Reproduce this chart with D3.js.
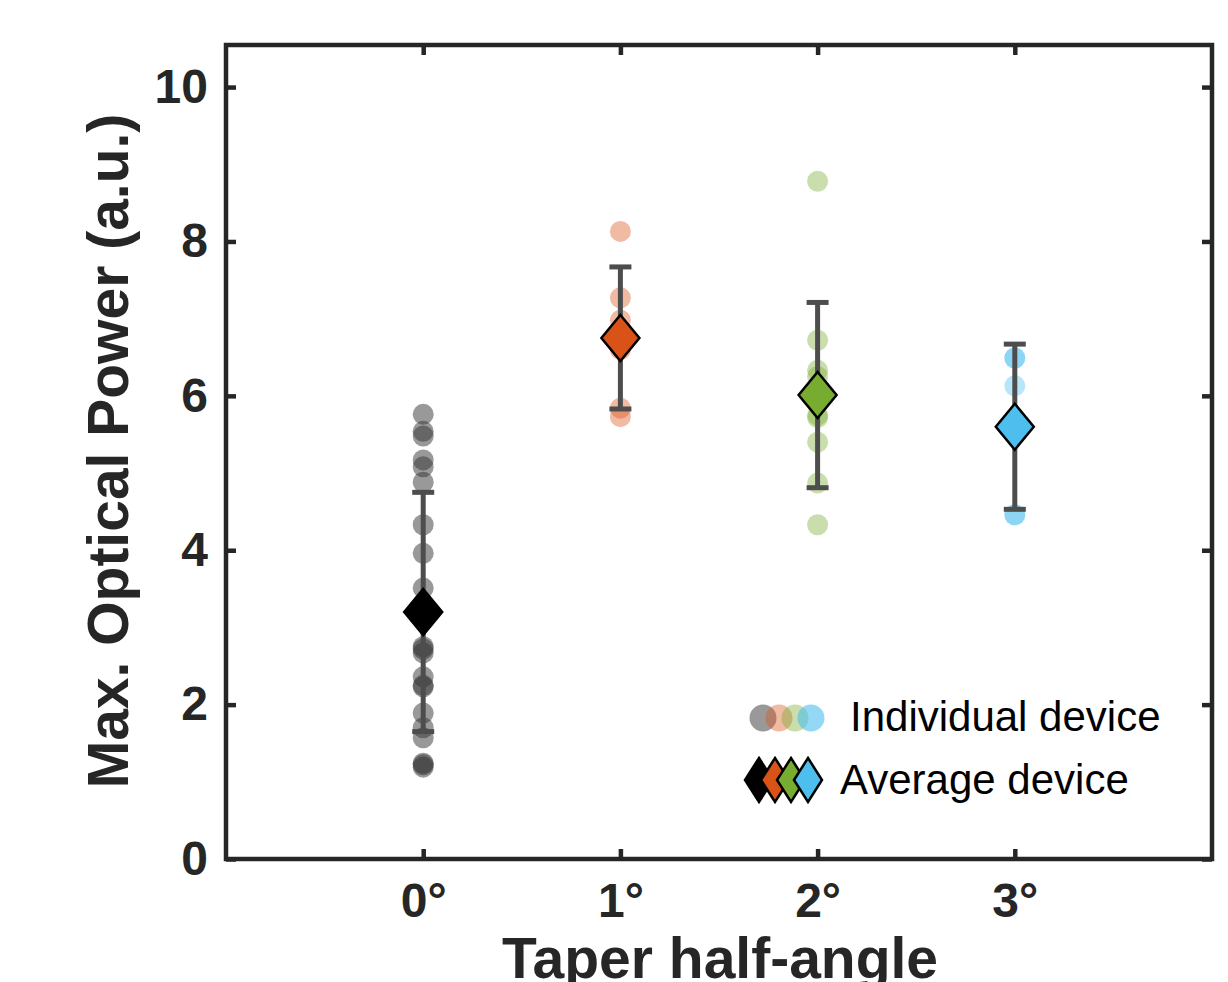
<!DOCTYPE html>
<html>
<head>
<meta charset="utf-8">
<script src="https://cdn.jsdelivr.net/npm/d3@7"></script>
<style>
  html, body { margin: 0; padding: 0; background: #fff; }
  svg { display: block; }
  text { font-family: "Liberation Sans", Arial, Helvetica, sans-serif; }
</style>
</head>
<body>
<svg id="chart" width="1228" height="982"></svg>
<script>
// Taper half-angle categories (x positions) and their tick labels
const angles = [0, 1, 2, 3];
const angleLabels = ["0°", "1°", "2°", "3°"];

// Max. optical power of each individual device, per taper half-angle
const power0 = [5.76, 5.54, 5.48, 5.17, 5.08, 4.88, 4.33, 3.96, 3.51, 2.75, 2.72, 2.67,
                2.36, 2.25, 2.23, 1.89, 1.70, 1.57, 1.24, 1.22, 1.19];
const power1 = [8.13, 7.27, 6.98, 6.85, 6.60, 5.84, 5.73];
const power2 = [8.78, 6.72, 6.33, 6.25, 5.75, 5.72, 5.40, 4.87, 4.33];
const power3 = [6.49, 6.49, 6.13, 4.46, 4.46];

// Average device and its error bar (half-length) per taper half-angle
const meanPower = [3.20, 6.75, 6.01, 5.60];
const errPower = [1.55, 0.92, 1.20, 1.07];

// Y-axis ticks
const yTicks = [0, 2, 4, 6, 8, 10];

// Legend entries
const legendLabels = ["Individual device", "Average device"];

const groups = [power0, power1, power2, power3];
const dotColors = ["#333333", "#D95319", "#77AC30", "#4DBEEE"];
const dotOpacity = [0.5, 0.4, 0.4, 0.4];
const meanColors = ["#000000", "#D95319", "#77AC30", "#4DBEEE"];
const ink = "#262626";

const svg = d3.select("#chart");
const M = { left: 226, right: 1212, top: 45, bottom: 859 };

const x = d3.scaleLinear().domain([-1, 4]).range([M.left, M.right]);
const y = d3.scaleLinear().domain([0, 10.545]).range([M.bottom, M.top]);

// Individual devices
groups.forEach((vals, gi) => {
  svg.append("g")
    .selectAll("circle")
    .data(vals)
    .join("circle")
    .attr("cx", x(angles[gi]))
    .attr("cy", d => y(d))
    .attr("r", 10.5)
    .attr("fill", dotColors[gi])
    .attr("fill-opacity", dotOpacity[gi]);
});

// Error bars
const eb = svg.append("g").attr("stroke", "#4d4d4d").attr("stroke-width", 5);
angles.forEach((a, i) => {
  const cx = x(a);
  const lo = y(meanPower[i] - errPower[i]);
  const hi = y(meanPower[i] + errPower[i]);
  eb.append("line").attr("x1", cx).attr("x2", cx).attr("y1", lo).attr("y2", hi);
  eb.append("line").attr("x1", cx - 11).attr("x2", cx + 11).attr("y1", lo).attr("y2", lo);
  eb.append("line").attr("x1", cx - 11).attr("x2", cx + 11).attr("y1", hi).attr("y2", hi);
});

// Diamond path centred on (cx, cy)
function diamond(cx, cy, hw, hh) {
  const p = d3.path();
  p.moveTo(cx, cy - hh);
  p.lineTo(cx + hw, cy);
  p.lineTo(cx, cy + hh);
  p.lineTo(cx - hw, cy);
  p.closePath();
  return p.toString();
}

// Average devices
svg.append("g")
  .selectAll("path")
  .data(meanPower)
  .join("path")
  .attr("d", (d, i) => diamond(x(angles[i]), y(d), 19, 23))
  .attr("fill", (d, i) => meanColors[i])
  .attr("stroke", "#000")
  .attr("stroke-width", 2.5)
  .attr("stroke-linejoin", "miter");

// Axes (ticks point inward)
const yAxis = d3.axisLeft(y).tickValues(yTicks).tickSizeInner(-10).tickSizeOuter(0).tickPadding(18);
const xAxis = d3.axisBottom(x).tickValues(angles).tickFormat((d, i) => angleLabels[i])
  .tickSizeInner(-10).tickSizeOuter(0).tickPadding(24);
const yAxisR = d3.axisRight(y).tickValues(yTicks).tickSizeInner(-10).tickSizeOuter(0).tickFormat("");
const xAxisT = d3.axisTop(x).tickValues(angles).tickSizeInner(-10).tickSizeOuter(0).tickFormat("");

function styleAxis(g) {
  g.select(".domain").remove();
  g.selectAll(".tick line").attr("stroke", ink).attr("stroke-width", 4.5);
  g.selectAll(".tick text").attr("fill", ink).attr("font-size", 48).attr("font-weight", "bold")
    .attr("font-family", "'Liberation Sans', Arial, Helvetica, sans-serif");
}

svg.append("g").attr("transform", `translate(${M.left},0)`).call(yAxis).call(styleAxis);
svg.append("g").attr("transform", `translate(0,${M.bottom})`).call(xAxis).call(styleAxis);
svg.append("g").attr("transform", `translate(${M.right},0)`).call(yAxisR).call(styleAxis);
svg.append("g").attr("transform", `translate(0,${M.top})`).call(xAxisT).call(styleAxis);

// Axes box
svg.append("rect")
  .attr("x", M.left).attr("y", M.top)
  .attr("width", M.right - M.left).attr("height", M.bottom - M.top)
  .attr("fill", "none").attr("stroke", ink).attr("stroke-width", 4.5);

// Axis titles
svg.append("text")
  .attr("x", 720).attr("y", 978)
  .attr("text-anchor", "middle")
  .attr("font-size", 57).attr("font-weight", "bold").attr("fill", ink)
  .text("Taper half-angle");

svg.append("text")
  .attr("transform", "translate(128,451) rotate(-90)")
  .attr("text-anchor", "middle")
  .attr("font-size", 57).attr("font-weight", "bold").attr("fill", ink)
  .text("Max. Optical Power (a.u.)");

// Legend
const leg = svg.append("g");
const legDotX = [763, 779, 795, 811];
const legDiaX = [759, 775, 791, 808];
const legDotAlpha = [0.5, 0.4, 0.4, 0.6];
legDotX.forEach((lx, i) => {
  leg.append("circle").attr("cx", lx).attr("cy", 718).attr("r", 13.5)
    .attr("fill", dotColors[i]).attr("fill-opacity", legDotAlpha[i]);
});
legDiaX.forEach((lx, i) => {
  leg.append("path").attr("d", diamond(lx, 780, 14, 22))
    .attr("fill", meanColors[i]).attr("stroke", "#000").attr("stroke-width", 2.5);
});
leg.append("text").attr("x", 850).attr("y", 731).attr("font-size", 42).attr("fill", "#000")
  .text(legendLabels[0]);
leg.append("text").attr("x", 840).attr("y", 794).attr("font-size", 42).attr("fill", "#000")
  .text(legendLabels[1]);
</script>
</body>
</html>
